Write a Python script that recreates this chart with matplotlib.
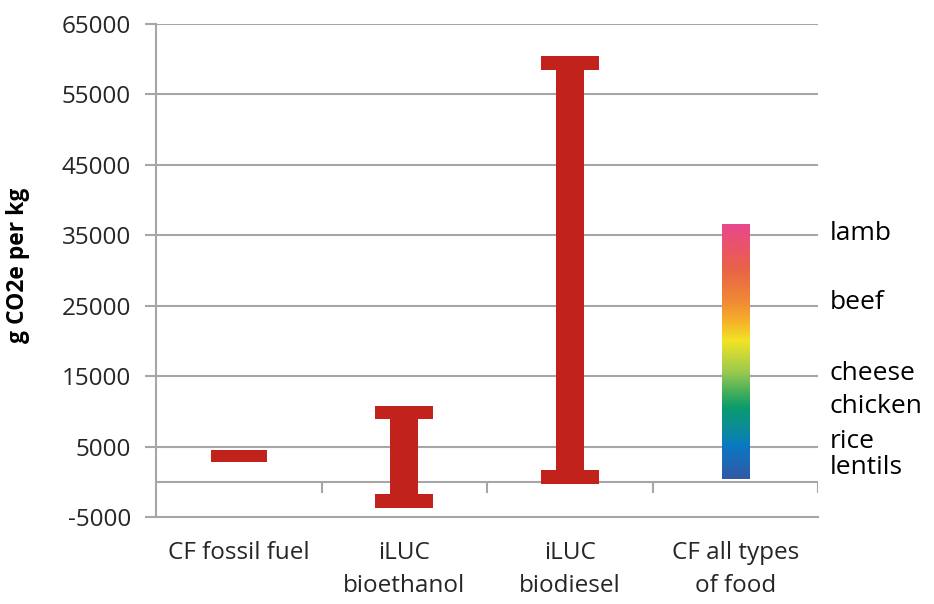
import matplotlib
matplotlib.use("Agg")
import matplotlib.pyplot as plt
import matplotlib.transforms as mtrans
from matplotlib.colors import LinearSegmentedColormap
import numpy as np

plt.rcParams.update({"font.family": "Open Sans"})
RED, GRID, INK = "#C1231C", "#A6A6A6", "#262626"

# ---- data ----
categories = ["CF fossil fuel", "iLUC\nbioethanol", "iLUC\nbiodiesel", "CF all types\nof food"]
fossil_low, fossil_high = 2800, 4550
iluc_low = [-3700, -300]
iluc_high = [10800, 60400]
food_low, food_high = 400, 36500
food_names = ["lamb", "beef", "cheese", "chicken", "rice", "lentils"]
food_values = [35200, 25400, 15400, 10700, 5700, 2000]

# gradient stops along the food bar (value, colour)
grad_vals = [400, 5000, 7500, 10500, 12500, 15500, 20000, 22500, 25500, 30500, 36500]
grad_cols = ["#3259A6", "#0A78C2", "#0C8C9A", "#0B9C6C", "#3FAE5C", "#9AC94F",
             "#F2E326", "#F6B52A", "#F08A34", "#E9604A", "#E9488C"]

fig = plt.figure(figsize=(9.34, 6.04), dpi=100)
ax = fig.add_axes([156/934, 1-517/604, 662/934, 493/604])

# gridlines + axes
yt = np.arange(-5000, 65001, 10000)
for v in yt[1:]:
    ax.axhline(v, color=GRID, lw=1.5, zorder=0)
ax.axhline(0, color=GRID, lw=1.5, zorder=0)
ax.vlines([0.5, 1.5, 2.5, 3.5], -1550, 0, color=GRID, lw=1.5, zorder=0)
for s in ["top", "right"]:
    ax.spines[s].set_visible(False)
for s in ["left", "bottom"]:
    ax.spines[s].set_color(GRID); ax.spines[s].set_linewidth(1.5)
ax.set_yticks(yt)
ax.set_yticklabels([str(v) for v in yt], fontsize=17.5, color=INK)
ax.tick_params(axis="y", length=8, width=1.5, color=GRID, pad=10)
ax.set_xticks(range(4))
ax.set_xticklabels(categories, fontsize=17.5, color=INK, linespacing=1.5)
ax.tick_params(axis="x", length=0, pad=17)

# fossil fuel bar
ax.bar(0, fossil_high-fossil_low, bottom=fossil_low, width=0.34, color=RED, zorder=3)

# iLUC "I" ranges: stem + caps
cap = 1950
for x, lo, hi in zip([1, 2], iluc_low, iluc_high):
    ax.bar(x, hi-lo, bottom=lo, width=0.17, color=RED, zorder=3)
    ax.bar(x, cap, bottom=lo, width=0.35, color=RED, zorder=3)
    ax.bar(x, cap, bottom=hi-cap, width=0.35, color=RED, zorder=3)

# food gradient bar
pos = [(v-food_low)/(food_high-food_low) for v in grad_vals]
cmap = LinearSegmentedColormap.from_list("food", list(zip(pos, grad_cols)))
grad = np.linspace(0, 1, 256).reshape(-1, 1)
ax.imshow(grad, cmap=cmap, origin="lower", aspect="auto", zorder=3,
          extent=(3-0.082, 3+0.082, food_low, food_high))
ax.set_xlim(-0.5, 3.5); ax.set_ylim(-5000, 65000)

tr = mtrans.blended_transform_factory(ax.transAxes, ax.transData)
for name, v in zip(food_names, food_values):
    ax.text(1.018, v, name, transform=tr, fontsize=19, color="black", va="center", ha="left")

fig.text(18/934, 1-265/604, "g CO2e per kg", rotation=90, fontsize=16.5, weight="bold",
         ha="center", va="center", color="black")

fig.savefig("out.png", dpi=100)
